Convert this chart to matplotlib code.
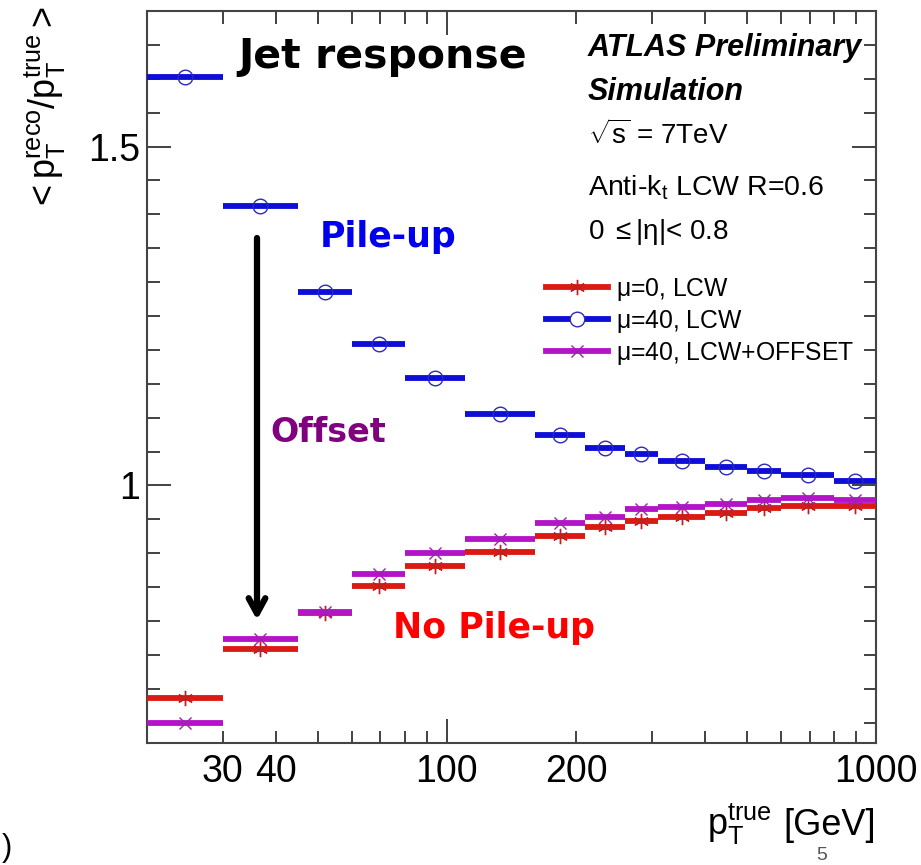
import matplotlib
matplotlib.use("Agg")
import matplotlib.pyplot as plt
from matplotlib.lines import Line2D
from matplotlib.ticker import FixedLocator, FuncFormatter
import numpy as np

# ---- data ----
bin_edges = [20, 30, 45, 60, 80, 110, 160, 210, 260, 310, 400, 500, 600, 800, 1000]
resp_mu40 = [1.603, 1.413, 1.286, 1.209, 1.158, 1.106, 1.075, 1.055, 1.047, 1.036, 1.027, 1.021, 1.016, 1.006]
resp_mu0 = [0.687, 0.758, 0.812, 0.851, 0.881, 0.902, 0.926, 0.939, 0.947, 0.954, 0.960, 0.967, 0.970, 0.969]
resp_mu40_off = [0.649, 0.773, 0.813, 0.869, 0.901, 0.921, 0.945, 0.954, 0.965, 0.968, 0.973, 0.978, 0.982, 0.978]
xtick_labels = {30: "30", 40: "40", 100: "100", 200: "200", 1000: "1000"}
legend_labels = [r"$\mathrm{\mu}$=0, LCW", r"$\mathrm{\mu}$=40, LCW", r"$\mathrm{\mu}$=40, LCW+OFFSET"]

plt.rcParams["font.family"] = ["Liberation Sans", "DejaVu Sans"]
plt.rcParams["mathtext.fontset"] = "custom"
plt.rcParams["mathtext.rm"] = "Liberation Sans"
plt.rcParams["mathtext.it"] = "Liberation Sans:italic"
plt.rcParams["mathtext.bf"] = "Liberation Sans:bold"

W, H = 921, 865
fig = plt.figure(figsize=(W / 100, H / 100), dpi=100)
fig.patch.set_facecolor("white")
ax = fig.add_axes([147 / W, 1 - 743 / H, (876 - 147) / W, (743 - 11) / H])

edges = np.array(bin_edges, dtype=float)
lo, hi = edges[:-1], edges[1:]
xc = np.sqrt(lo * hi)
xerr = [xc - lo, hi - xc]

RED = "#dc1a14"
BLUE = "#0e0ed8"
MAG = "#b414c8"

def draw(vals, color, marker, ms, mec, mfc, z):
    ax.errorbar(xc, vals, xerr=xerr, fmt="none", ecolor=color, elinewidth=4.2, capsize=0, zorder=z)
    ax.plot(xc, vals, linestyle="none", marker=marker, ms=ms, mec=mec, mfc=mfc, mew=1.0, zorder=z + 0.5)

draw(resp_mu40, BLUE, "o", 10.5, "#2a2ab8", "none", 3)
draw(resp_mu0, RED, (6, 2, 0), 11, "#c02020", RED, 4)
draw(resp_mu40_off, MAG, "x", 9, "#a020b0", MAG, 5)

ax.set_xscale("log")
ax.set_xlim(20, 1000)
ax.set_ylim(0.62, 1.70)

# x ticks
ax.xaxis.set_major_locator(FixedLocator([100, 1000]))
ax.xaxis.set_minor_locator(FixedLocator([30, 40, 50, 60, 70, 80, 90, 200, 300, 400, 500, 600, 700, 800, 900]))
fmt = FuncFormatter(lambda v, p: xtick_labels.get(int(round(v)), ""))
ax.xaxis.set_major_formatter(fmt)
ax.xaxis.set_minor_formatter(fmt)
# y ticks
ax.yaxis.set_major_locator(FixedLocator([1.0, 1.5]))
ax.yaxis.set_minor_locator(FixedLocator(np.round(np.arange(0.65, 1.70, 0.05), 2)))
ax.yaxis.set_major_formatter(FuncFormatter(lambda v, p: "1" if abs(v - 1) < 1e-6 else "1.5"))

ax.tick_params(which="both", direction="in", top=True, right=True, width=1.3, color="#333333")
ax.tick_params(which="major", length=17, labelsize=27, pad=8)
ax.tick_params(which="minor", length=9, labelsize=27, pad=8)
ax.tick_params(axis="y", which="major", pad=5)
for s in ax.spines.values():
    s.set_linewidth(1.5)
    s.set_color("#444444")

# axis labels
fig.text(45 / W, 1 - 6 / H, r"${<}\mathrm{p}_{\mathrm{T}}^{\mathrm{reco}}/\mathrm{p}_{\mathrm{T}}^{\mathrm{true}}{>}$",
         rotation=90, ha="center", va="top", fontsize=26)
fig.text(772 / W, 1 - 835 / H, r"$\mathrm{p}_{\mathrm{T}}^{\mathrm{true}}$", ha="right", va="baseline", fontsize=26)
fig.text(876 / W, 1 - 835 / H, "[GeV]", ha="right", va="baseline", fontsize=26)

def ftxt(x, y, s, **kw):
    fig.text(x / W, 1 - y / H, s, **kw)

# ATLAS labels
ftxt(588, 48, "ATLAS Preliminary", ha="left", va="center", fontsize=22, fontweight="bold", fontstyle="italic")
ftxt(588, 92, "Simulation", ha="left", va="center", fontsize=22, fontweight="bold", fontstyle="italic")
ftxt(588, 135, r"$\sqrt{\mathrm{s}}$ = 7TeV", ha="left", va="center", fontsize=20)
ftxt(588, 188, r"Anti-k$_{\mathrm{t}}$ LCW R=0.6", ha="left", va="center", fontsize=20.5)
ftxt(588, 232, r"0 $\leq$|$\mathrm{\eta}$|< 0.8", ha="left", va="center", fontsize=20)

# annotations
ftxt(383, 57, "Jet response", ha="center", va="center", fontsize=29.5, fontweight="bold", family="DejaVu Sans")
ftxt(388, 237, "Pile-up", ha="center", va="center", fontsize=25, fontweight="bold", color="#0000ee", family="DejaVu Sans")
ftxt(328, 432, "Offset", ha="center", va="center", fontsize=24, fontweight="bold", color="#800080", family="DejaVu Sans")
ftxt(494, 628, "No Pile-up", ha="center", va="center", fontsize=25, fontweight="bold", color="#ff0000", family="DejaVu Sans")

# arrow
ax.annotate("", xy=(257 / W, 1 - 620 / H), xytext=(257 / W, 1 - 238 / H),
            xycoords="figure fraction", textcoords="figure fraction",
            arrowprops=dict(arrowstyle="->,head_length=1.1,head_width=0.6", lw=4.5, color="black",
                            shrinkA=0, shrinkB=0))

# legend
handles = [
    Line2D([], [], color=RED, lw=4.2, marker=(6, 2, 0), ms=11, mec="#c02020", mew=1.0),
    Line2D([], [], color=BLUE, lw=4.2, marker="o", ms=10.5, mec="#2a2ab8", mfc="white", mew=1.0),
    Line2D([], [], color=MAG, lw=4.2, marker="x", ms=9, mec="#a020b0", mew=1.0),
]
leg = ax.legend(handles, legend_labels, loc="upper left", bbox_to_anchor=(546 / W, 1 - 276 / H),
                bbox_transform=fig.transFigure, frameon=False, fontsize=17.8, handlelength=2.5,
                handletextpad=0.35, labelspacing=0.2, borderpad=0, borderaxespad=0)

# slide remnants
ftxt(2, 848, ")", ha="left", va="center", fontsize=22, color="black")
ftxt(822, 855, "5", ha="center", va="center", fontsize=14, color="#555555")

fig.savefig("out.png", dpi=100, facecolor="white")
